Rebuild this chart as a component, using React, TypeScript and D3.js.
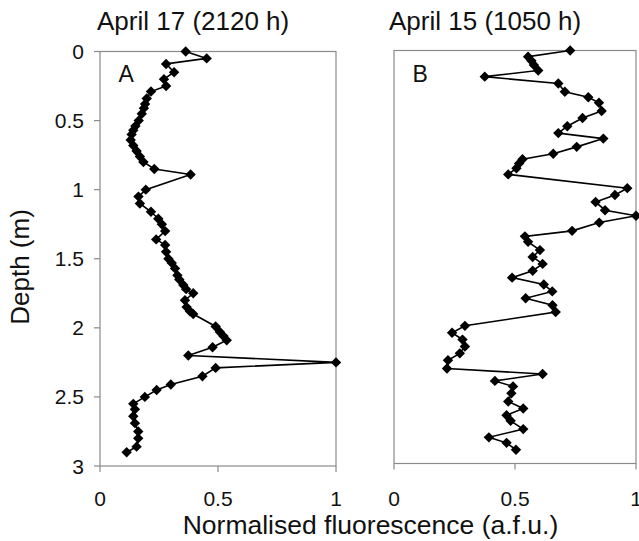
import React from "react";
import * as d3 from "d3";

// ---- Data ----
const depthA = [0.0, 0.05, 0.09, 0.15, 0.2, 0.25, 0.29, 0.34, 0.38, 0.41, 0.45, 0.5, 0.54, 0.57, 0.6, 0.64, 0.68, 0.72, 0.76, 0.8, 0.85, 0.89, 1.0, 1.05, 1.1, 1.16, 1.21, 1.25, 1.3, 1.36, 1.4, 1.45, 1.5, 1.53, 1.57, 1.62, 1.65, 1.69, 1.72, 1.75, 1.8, 1.85, 1.88, 1.9, 1.99, 2.03, 2.06, 2.09, 2.14, 2.2, 2.25, 2.29, 2.35, 2.41, 2.45, 2.5, 2.55, 2.59, 2.64, 2.69, 2.75, 2.8, 2.86, 2.9];
const fluorA = [0.363, 0.452, 0.28, 0.314, 0.271, 0.28, 0.216, 0.198, 0.191, 0.186, 0.177, 0.164, 0.15, 0.141, 0.134, 0.13, 0.141, 0.155, 0.169, 0.184, 0.23, 0.384, 0.194, 0.163, 0.169, 0.216, 0.247, 0.262, 0.276, 0.238, 0.276, 0.28, 0.29, 0.304, 0.318, 0.328, 0.336, 0.353, 0.365, 0.395, 0.36, 0.367, 0.381, 0.395, 0.49, 0.508, 0.523, 0.537, 0.477, 0.374, 1.0, 0.49, 0.434, 0.3, 0.24, 0.19, 0.141, 0.148, 0.141, 0.148, 0.162, 0.162, 0.155, 0.113];

const depthB = [0.0, 0.045, 0.075, 0.105, 0.145, 0.19, 0.24, 0.3, 0.34, 0.38, 0.44, 0.49, 0.55, 0.6, 0.64, 0.7, 0.75, 0.79, 0.82, 0.855, 0.9, 1.0, 1.05, 1.1, 1.16, 1.2, 1.25, 1.31, 1.35, 1.39, 1.45, 1.5, 1.55, 1.6, 1.65, 1.7, 1.75, 1.8, 1.85, 1.9, 2.0, 2.05, 2.1, 2.15, 2.2, 2.25, 2.31, 2.35, 2.4, 2.44, 2.49, 2.55, 2.6, 2.65, 2.69, 2.75, 2.81, 2.85, 2.9];
const fluorB = [0.728, 0.554, 0.568, 0.578, 0.596, 0.375, 0.679, 0.706, 0.803, 0.847, 0.858, 0.779, 0.716, 0.679, 0.865, 0.755, 0.658, 0.531, 0.517, 0.506, 0.472, 0.964, 0.913, 0.833, 0.872, 1.0, 0.848, 0.736, 0.541, 0.554, 0.603, 0.573, 0.614, 0.573, 0.488, 0.619, 0.654, 0.544, 0.655, 0.668, 0.293, 0.24, 0.283, 0.293, 0.272, 0.223, 0.219, 0.614, 0.417, 0.492, 0.485, 0.472, 0.534, 0.465, 0.482, 0.534, 0.392, 0.465, 0.504];

const depthTicks = [0, 0.5, 1, 1.5, 2, 2.5, 3];
const depthTickLabels = ["0", "0.5", "1", "1.5", "2", "2.5", "3"];
const fluorTicks = [0, 0.5, 1];
const fluorTickLabels = ["0", "0.5", "1"];

const titleA = "April 17 (2120 h)";
const titleB = "April 15 (1050 h)";
const xTitle = "Normalised fluorescence (a.f.u.)";
const yTitle = "Depth (m)";

const FONT = "'Liberation Sans', Arial, Helvetica, sans-serif";
const FRAME = "#8a8a8a";

type PanelProps = {
  depth: number[];
  fluor: number[];
  x0: number;
  x1: number;
  y0: number;
  y1: number;
  letter: string;
  title: string;
  showY: boolean;
};

function Panel({ depth, fluor, x0, x1, y0, y1, letter, title, showY }: PanelProps) {
  const x = d3.scaleLinear().domain([0, 1]).range([x0, x1]);
  const y = d3.scaleLinear().domain([0, 3]).range([y0, y1]);
  const pts = depth.map((d, i) => [fluor[i], d] as [number, number]);
  const line = d3
    .line<[number, number]>()
    .x((p) => x(p[0]))
    .y((p) => y(p[1]));
  const r = 5.2;
  const diamond = `M0,${-r}L${r},0L0,${r}L${-r},0Z`;
  return (
    <g>
      <rect x={x0} y={y0} width={x1 - x0} height={y1 - y0} fill="none" stroke={FRAME} strokeWidth={1.2} />
      {fluorTicks.map((t, i) => (
        <g key={"xt" + i}>
          <line x1={x(t)} x2={x(t)} y1={y1} y2={y1 + 6} stroke={FRAME} strokeWidth={1.2} />
          <text x={x(t)} y={506} textAnchor="middle" fontSize={21} fontFamily={FONT} fill="#111">
            {fluorTickLabels[i]}
          </text>
        </g>
      ))}
      {showY &&
        depthTicks.map((t, i) => (
          <g key={"yt" + i}>
            <line x1={x0 - 6} x2={x0} y1={y(t)} y2={y(t)} stroke={FRAME} strokeWidth={1.2} />
            <text x={84} y={y(t)} dy="0.36em" textAnchor="end" fontSize={21} fontFamily={FONT} fill="#111">
              {depthTickLabels[i]}
            </text>
          </g>
        ))}
      <path d={line(pts) || ""} fill="none" stroke="#000" strokeWidth={1.6} />
      {pts.map((p, i) => (
        <path key={"m" + i} d={diamond} transform={`translate(${x(p[0])},${y(p[1])})`} fill="#000" />
      ))}
      <text x={x0 + 18.5} y={82} fontSize={23} fontFamily={FONT} fill="#111">
        {letter}
      </text>
      <text x={showY ? 97 : 389} y={29.5} fontSize={26} fontFamily={FONT} fill="#111">
        {title}
      </text>
    </g>
  );
}

export default function App() {
  return (
    <svg
      width={639}
      height={541}
      viewBox="0 0 639 541"
      style={{ position: "absolute", left: 0, top: 0, background: "#fff" }}
    >
      <rect x={0} y={0} width={639} height={541} fill="#fff" />
      <Panel depth={depthA} fluor={fluorA} x0={100} x1={336} y0={51.5} y1={466} letter="A" title={titleA} showY={true} />
      <Panel depth={depthB} fluor={fluorB} x0={394} x1={636} y0={50.5} y1={463.5} letter="B" title={titleB} showY={false} />
      <text x={370.5} y={533.5} textAnchor="middle" fontSize={26.5} fontFamily={FONT} fill="#111">
        {xTitle}
      </text>
      <text
        transform={`translate(29,267) rotate(-90)`}
        textAnchor="middle"
        fontSize={26}
        fontFamily={FONT}
        fill="#111"
      >
        {yTitle}
      </text>
    </svg>
  );
}
